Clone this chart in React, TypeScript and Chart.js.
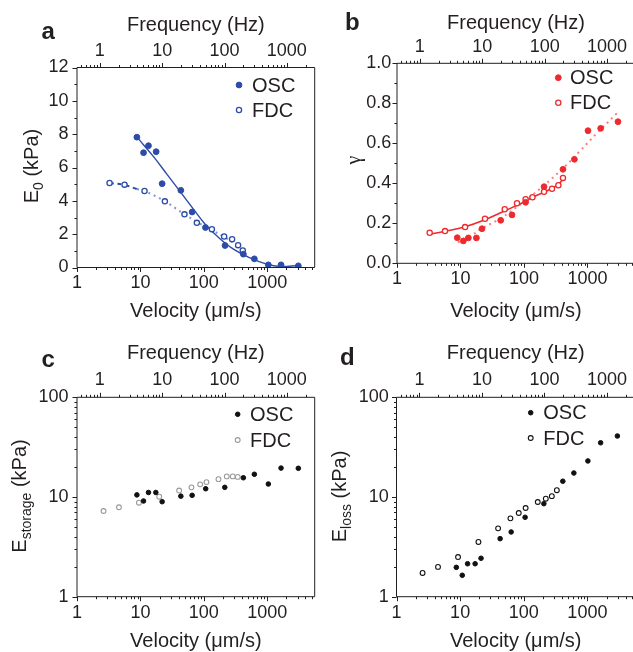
import React, { useEffect, useRef } from 'react';
import { Chart, registerables } from 'chart.js';
Chart.register(...registerables);

const FONT = '"Liberation Sans", Arial, Helvetica, sans-serif';
const SERIF = '"Liberation Serif", "Times New Roman", serif';
const INK = '#231f20';
const BLUE = '#2d4ca8';
const BLUE_LIGHT = '#7f95d2';
const RED = '#ee2a2e';
const RED_LIGHT = '#f2807f';
const GRAY = '#9a9a9a';

// ---------- tick labels ----------
const velocityTicks = [1, 10, 100, 1000];
const frequencyTicks = [1, 10, 100, 1000];
const e0Ticks = [0, 2, 4, 6, 8, 10, 12];
const gammaTicks = [0, 0.2, 0.4, 0.6, 0.8, 1.0];
const modulusTicks = [1, 10, 100];

// ---------- panel a : E0 ----------
const aOscVelocity = [8.8, 11.2, 13.4, 17.7, 22, 43.4, 65.4, 106, 216, 420, 626, 1040, 1650, 3090];
const aOscE0 = [7.82, 6.89, 7.31, 6.95, 5.03, 4.63, 3.33, 2.4, 1.32, 0.8, 0.52, 0.16, 0.16, 0.1];
const aFdcVelocity = [3.26, 5.62, 11.6, 24.3, 49.5, 77.6, 134, 209, 279, 347, 411];
const aFdcE0 = [5.07, 4.97, 4.59, 3.97, 3.19, 2.68, 2.3, 1.86, 1.7, 1.34, 1.02];
const aOscFitVelocity = [9.1, 16.1, 26.1, 42.4, 68.6, 105, 160, 293, 536, 982, 1590, 3170];
const aOscFitE0 = [7.76, 6.65, 5.6, 4.55, 3.5, 2.6, 1.9, 1.1, 0.58, 0.2, 0.06, 0.12];
const aFdcFitHeadVelocity = [3.26, 5.62, 8.8];
const aFdcFitHeadE0 = [5.07, 4.95, 4.71];
const aFdcFitVelocity = [8.8, 11.6, 24.3, 49.5, 77.6, 134, 209, 347, 420];
const aFdcFitE0 = [4.71, 4.59, 3.97, 3.19, 2.74, 2.24, 1.84, 1.28, 0.94];

// ---------- panel b : gamma ----------
const bOscVelocity = [8.9, 11.1, 13.3, 17.8, 21.8, 43, 64.7, 106, 207, 411, 622, 1018, 1614, 3020];
const bOscGamma = [0.128, 0.112, 0.127, 0.127, 0.173, 0.215, 0.242, 0.305, 0.383, 0.47, 0.52, 0.663, 0.675, 0.708];
const bFdcVelocity = [3.27, 5.7, 11.8, 24.3, 49.7, 77.6, 106, 136, 207, 276, 348, 411];
const bFdcGamma = [0.153, 0.161, 0.181, 0.223, 0.27, 0.3, 0.32, 0.33, 0.358, 0.373, 0.39, 0.427];
const bFdcFitVelocity = [3.2, 5.7, 11.8, 24.3, 49.7, 77.6, 106, 136, 207, 276, 348, 411];
const bFdcFitGamma = [0.145, 0.16, 0.183, 0.218, 0.262, 0.29, 0.31, 0.33, 0.355, 0.375, 0.395, 0.42];
const bOscFitVelocity = [9.1, 15, 21.8, 43, 106, 207, 411, 754, 1400, 2900];
const bOscFitGamma = [0.105, 0.14, 0.175, 0.225, 0.315, 0.39, 0.475, 0.56, 0.65, 0.75];

// ---------- panel c : E storage ----------
const cOscVelocity = [8.8, 11.2, 13.4, 17.5, 22, 43.4, 65.4, 107, 214, 420, 626, 1040, 1650, 3090];
const cOscStorage = [10.5, 9.12, 11.1, 11.1, 8.97, 10.2, 10.4, 12.1, 12.5, 15.6, 16.9, 13.5, 19.5, 19.4];
const cFdcVelocity = [2.62, 4.59, 9.47, 19.8, 40.8, 63.8, 87.5, 110, 170, 230, 286, 343];
const cFdcStorage = [7.24, 7.88, 8.77, 10.07, 11.6, 12.5, 13.4, 14.1, 15.1, 16.1, 16.1, 15.9];

// ---------- panel d : E loss ----------
const dOscVelocity = [8.71, 10.8, 13.1, 17.2, 21.3, 42.5, 63.4, 105, 207, 411, 613, 1018, 1614, 2960];
const dOscLoss = [1.97, 1.64, 2.14, 2.14, 2.43, 3.82, 4.46, 6.26, 8.57, 14.4, 17.4, 23, 35, 40.9];
const dFdcVelocity = [2.57, 4.49, 9.27, 19.4, 39.5, 61.7, 83.4, 107, 166, 222, 276, 331];
const dFdcLoss = [1.73, 1.99, 2.5, 3.54, 4.85, 6.11, 6.91, 7.76, 8.91, 9.61, 10.2, 11.7];

const zip = (xs: number[], ys: number[]) => xs.map((x, i) => ({ x, y: ys[i] }));

const VMIN = 1, VMAX = 5600, FMIN = 0.43, FMAX = 2800;

function pts(xs: number[], ys: number[], fill: string, stroke: string, r: number, bw: number) {
  return {
    data: zip(xs, ys), showLine: false, pointRadius: r, pointHoverRadius: r,
    pointBackgroundColor: fill, pointBorderColor: stroke, pointBorderWidth: bw,
  };
}
function fit(xs: number[], ys: number[], color: string, width: number, dash: number[]) {
  return {
    data: zip(xs, ys), showLine: true, pointRadius: 0, borderColor: color, borderWidth: width,
    borderDash: dash, tension: 0.4, fill: false,
  };
}

function logTickVals(min: number, max: number) {
  const out: { v: number; major: boolean }[] = [];
  for (let e = Math.floor(Math.log10(min)); e <= Math.ceil(Math.log10(max)); e++) {
    for (let m = 1; m <= 9; m++) {
      const v = m * Math.pow(10, e);
      if (v >= min * 0.9999 && v <= max * 1.0001) out.push({ v, major: m === 1 });
    }
  }
  return out;
}
function linTickVals(min: number, max: number, minor: number, major: number) {
  const out: { v: number; major: boolean }[] = [];
  const n = Math.round((max - min) / minor);
  for (let i = 0; i <= n; i++) {
    const v = min + i * minor;
    out.push({ v, major: Math.abs(v / major - Math.round(v / major)) < 1e-6 });
  }
  return out;
}

type Spec = {
  letter: string; letterX: number; letterY: number;
  left: number; top: number; width: number; height: number;
  area: { l: number; t: number; r: number; b: number };
  yType: 'linear' | 'logarithmic'; yMin: number; yMax: number; yTicks: number[];
  yFmt: (v: number) => string; yMinor?: number; yMajor?: number;
  datasets: any[];
  legend: { x: number; ys: number[]; tx: number; items: { label: string; fill: string; stroke: string; r: number; bw: number }[] };
  yTitle: { x: number; y: number; main: string; sub?: string; rest?: string; serif?: boolean };
  titlePad: { top: number; bottom: number };
  tickPad: { top: number; bottom: number; left: number };
};

function decor(spec: Spec) {
  return {
    id: 'decor' + spec.letter,
    afterDraw(chart: any) {
      const ctx = chart.ctx as CanvasRenderingContext2D;
      const a = chart.chartArea;
      const ox = spec.left, oy = spec.top;
      ctx.save();
      ctx.strokeStyle = INK;
      ctx.lineWidth = 1;
      ctx.beginPath();
      ctx.rect(a.left, a.top, a.right - a.left, a.bottom - a.top);
      ctx.stroke();
      const MAJ = 4.5, MIN = 2.5;
      const xs = chart.scales.x, x2 = chart.scales.x2, ys = chart.scales.y;
      ctx.beginPath();
      for (const t of logTickVals(VMIN, VMAX)) {
        const p = Math.round(xs.getPixelForValue(t.v)) + 0.5;
        ctx.moveTo(p, a.bottom); ctx.lineTo(p, a.bottom + (t.major ? MAJ : MIN));
      }
      for (const t of logTickVals(FMIN, FMAX)) {
        const p = Math.round(x2.getPixelForValue(t.v)) + 0.5;
        ctx.moveTo(p, a.top); ctx.lineTo(p, a.top - (t.major ? MAJ : MIN));
      }
      const yv = spec.yType === 'logarithmic'
        ? logTickVals(spec.yMin, spec.yMax)
        : linTickVals(spec.yMin, spec.yMax, spec.yMinor as number, spec.yMajor as number);
      for (const t of yv) {
        const p = Math.round(ys.getPixelForValue(t.v)) + 0.5;
        ctx.moveTo(a.left, p); ctx.lineTo(a.left - (t.major ? MAJ : MIN), p);
      }
      ctx.stroke();

      // panel letter
      ctx.fillStyle = INK;
      ctx.font = `bold 24px ${FONT}`;
      ctx.textAlign = 'left';
      ctx.textBaseline = 'alphabetic';
      ctx.fillText(spec.letter, spec.letterX - ox, spec.letterY - oy);

      // legend
      ctx.font = `20px ${FONT}`;
      ctx.textBaseline = 'middle';
      spec.legend.items.forEach((it, i) => {
        const cy = spec.legend.ys[i] - oy;
        ctx.beginPath();
        ctx.arc(spec.legend.x - ox, cy, it.r, 0, Math.PI * 2);
        ctx.fillStyle = it.fill;
        ctx.fill();
        ctx.lineWidth = it.bw;
        ctx.strokeStyle = it.stroke;
        ctx.stroke();
        ctx.fillStyle = INK;
        ctx.fillText(it.label, spec.legend.tx - ox, cy + 1);
      });

      // y title (rotated, with subscript)
      const yt = spec.yTitle;
      ctx.translate(yt.x - ox, yt.y - oy);
      ctx.rotate(-Math.PI / 2);
      ctx.fillStyle = INK;
      ctx.textAlign = 'left';
      ctx.textBaseline = 'alphabetic';
      const mainFont = `20px ${yt.serif ? SERIF : FONT}`;
      const subFont = `14px ${FONT}`;
      ctx.font = mainFont;
      const w1 = ctx.measureText(yt.main).width;
      ctx.font = subFont;
      const w2 = yt.sub ? ctx.measureText(yt.sub).width : 0;
      ctx.font = mainFont;
      const w3 = yt.rest ? ctx.measureText(yt.rest).width : 0;
      let sx = -(w1 + w2 + w3) / 2;
      const base = 7;
      ctx.fillText(yt.main, sx, base);
      sx += w1;
      if (yt.sub) { ctx.font = subFont; ctx.fillText(yt.sub, sx, base + 5); sx += w2; }
      if (yt.rest) { ctx.font = mainFont; ctx.fillText(yt.rest, sx, base); }
      ctx.restore();
    },
  };
}

function buildConfig(spec: Spec) {
  const leftW = spec.area.l - spec.left;
  const topH = spec.area.t - spec.top;
  const bottomH = spec.top + spec.height - spec.area.b;
  const padRight = spec.left + spec.width - spec.area.r;
  const tickFont = { family: FONT, size: 18 };
  const titleFont = { family: FONT, size: 20 };
  const noGrid = { display: false, drawTicks: false, tickLength: 0 };
  return {
    type: 'scatter',
    data: { datasets: spec.datasets },
    options: {
      animation: false,
      responsive: false,
      devicePixelRatio: 1,
      events: [],
      layout: { padding: { left: 0, top: 0, bottom: 0, right: padRight } },
      plugins: { legend: { display: false }, tooltip: { enabled: false } },
      scales: {
        x: {
          type: 'logarithmic', position: 'bottom', min: VMIN, max: VMAX,
          grid: noGrid, border: { display: false },
          ticks: { font: tickFont, color: INK, padding: spec.tickPad.bottom, autoSkip: false, maxRotation: 0, callback: (v: number) => String(v) },
          title: { display: true, text: 'Velocity (μm/s)', font: titleFont, color: INK, padding: { top: 0, bottom: spec.titlePad.bottom } },
          afterBuildTicks: (s: any) => { s.ticks = velocityTicks.map((value) => ({ value })); },
          afterFit: (s: any) => { s.height = bottomH; },
        },
        x2: {
          type: 'logarithmic', position: 'top', display: true, min: FMIN, max: FMAX,
          grid: noGrid, border: { display: false },
          ticks: { font: tickFont, color: INK, padding: spec.tickPad.top, autoSkip: false, maxRotation: 0, callback: (v: number) => String(v) },
          title: { display: true, text: 'Frequency (Hz)', font: titleFont, color: INK, padding: { top: spec.titlePad.top, bottom: 0 } },
          afterBuildTicks: (s: any) => { s.ticks = frequencyTicks.map((value) => ({ value })); },
          afterFit: (s: any) => { s.height = topH; },
        },
        y: {
          type: spec.yType, position: 'left', min: spec.yMin, max: spec.yMax,
          grid: noGrid, border: { display: false },
          ticks: { font: tickFont, color: INK, padding: spec.tickPad.left, autoSkip: false, callback: (v: number) => spec.yFmt(v) },
          title: { display: false },
          afterBuildTicks: (s: any) => { s.ticks = spec.yTicks.map((value) => ({ value })); },
          afterFit: (s: any) => { s.width = leftW; },
        },
      },
    },
    plugins: [decor(spec)],
  };
}

const specs: Spec[] = [
  {
    letter: 'a', letterX: 41.5, letterY: 38.5,
    left: 0, top: 0, width: 330, height: 330,
    area: { l: 77, t: 67.5, r: 314.7, b: 267.5 },
    yType: 'linear', yMin: 0, yMax: 12, yTicks: e0Ticks, yFmt: (v) => String(Math.round(v)), yMinor: 1, yMajor: 2,
    datasets: [
      pts(aOscVelocity, aOscE0, BLUE, BLUE, 2.9, 1),
      pts(aFdcVelocity, aFdcE0, '#ffffff', BLUE, 2.6, 1.3),
      fit(aOscFitVelocity, aOscFitE0, BLUE, 1.4, []),
      fit(aFdcFitHeadVelocity, aFdcFitHeadE0, BLUE, 2, [4, 4]),
      fit(aFdcFitVelocity, aFdcFitE0, BLUE_LIGHT, 2, [2, 4]),
    ],
    legend: { x: 239, ys: [85, 110], tx: 252, items: [
      { label: 'OSC', fill: BLUE, stroke: BLUE, r: 2.9, bw: 1 },
      { label: 'FDC', fill: '#ffffff', stroke: BLUE, r: 2.6, bw: 1.3 },
    ] },
    yTitle: { x: 31, y: 166, main: 'E', sub: '0', rest: ' (kPa)' },
    titlePad: { top: 13, bottom: 6.3 },
    tickPad: { top: 5.7, bottom: 5.2, left: 8.5 },
  },
  {
    letter: 'b', letterX: 345, letterY: 30,
    left: 316, top: 0, width: 330, height: 330,
    area: { l: 397, t: 63.3, r: 635, b: 263.3 },
    yType: 'linear', yMin: 0, yMax: 1, yTicks: gammaTicks, yFmt: (v) => v.toFixed(1), yMinor: 0.1, yMajor: 0.2,
    datasets: [
      pts(bOscVelocity, bOscGamma, RED, RED, 2.9, 1),
      pts(bFdcVelocity, bFdcGamma, '#ffffff', RED, 2.6, 1.3),
      fit(bFdcFitVelocity, bFdcFitGamma, RED, 1.6, []),
      fit(bOscFitVelocity, bOscFitGamma, RED_LIGHT, 2, [2, 4]),
    ],
    legend: { x: 558.3, ys: [77.7, 102.7], tx: 570, items: [
      { label: 'OSC', fill: RED, stroke: RED, r: 2.9, bw: 1 },
      { label: 'FDC', fill: '#ffffff', stroke: RED, r: 2.6, bw: 1.3 },
    ] },
    yTitle: { x: 353, y: 160, main: 'γ', serif: true },
    titlePad: { top: 11.3, bottom: 6.3 },
    tickPad: { top: 5, bottom: 5.4, left: 5.7 },
  },
  {
    letter: 'c', letterX: 41.5, letterY: 367,
    left: 0, top: 326, width: 330, height: 340,
    area: { l: 77, t: 397.3, r: 314.7, b: 596.7 },
    yType: 'logarithmic', yMin: 1, yMax: 100, yTicks: modulusTicks, yFmt: (v) => String(v),
    datasets: [
      pts(cOscVelocity, cOscStorage, '#111111', '#111111', 2.3, 1),
      pts(cFdcVelocity, cFdcStorage, '#ffffff', GRAY, 2.4, 1.1),
    ],
    legend: { x: 237.7, ys: [414.3, 440], tx: 250, items: [
      { label: 'OSC', fill: '#111111', stroke: '#111111', r: 2.3, bw: 1 },
      { label: 'FDC', fill: '#ffffff', stroke: GRAY, r: 2.4, bw: 1.1 },
    ] },
    yTitle: { x: 19, y: 496, main: 'E', sub: 'storage', rest: ' (kPa)' },
    titlePad: { top: 15.3, bottom: 12.3 },
    tickPad: { top: 6.5, bottom: 5.8, left: 8.4 },
  },
  {
    letter: 'd', letterX: 340, letterY: 365,
    left: 316, top: 326, width: 330, height: 340,
    area: { l: 396.5, t: 397.3, r: 635, b: 596.7 },
    yType: 'logarithmic', yMin: 1, yMax: 100, yTicks: modulusTicks, yFmt: (v) => String(v),
    datasets: [
      pts(dOscVelocity, dOscLoss, '#111111', '#111111', 2.3, 1),
      pts(dFdcVelocity, dFdcLoss, '#ffffff', '#111111', 2.4, 1.1),
    ],
    legend: { x: 530.7, ys: [412.7, 438], tx: 543.3, items: [
      { label: 'OSC', fill: '#111111', stroke: '#111111', r: 2.3, bw: 1 },
      { label: 'FDC', fill: '#ffffff', stroke: '#111111', r: 2.4, bw: 1.1 },
    ] },
    yTitle: { x: 339, y: 496.5, main: 'E', sub: 'loss', rest: ' (kPa)' },
    titlePad: { top: 15.3, bottom: 12.3 },
    tickPad: { top: 6.5, bottom: 5.8, left: 7.7 },
  },
];

function Panel({ spec }: { spec: Spec }) {
  const ref = useRef<HTMLCanvasElement | null>(null);
  useEffect(() => {
    if (!ref.current) return;
    const chart = new Chart(ref.current, buildConfig(spec) as any);
    return () => chart.destroy();
  }, [spec]);
  return (
    <canvas
      ref={ref}
      width={spec.width}
      height={spec.height}
      style={{ position: 'absolute', left: spec.left, top: spec.top, width: spec.width, height: spec.height }}
    />
  );
}

export default function App() {
  return (
    <div style={{ position: 'absolute', left: 0, top: 0, width: 633, height: 652, overflow: 'hidden', background: '#ffffff' }}>
      {specs.map((s) => (
        <Panel key={s.letter} spec={s} />
      ))}
    </div>
  );
}
